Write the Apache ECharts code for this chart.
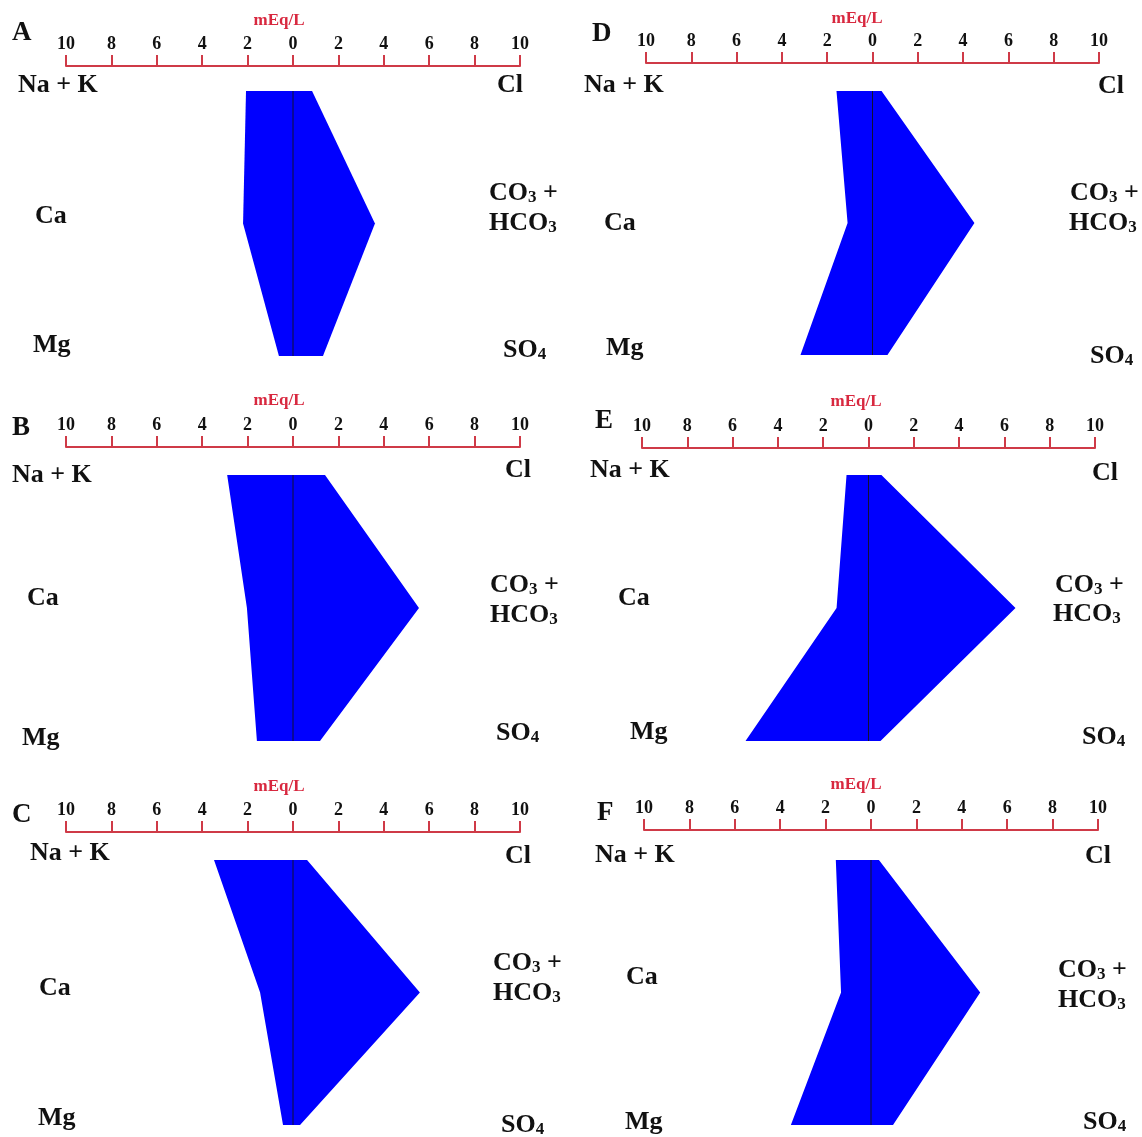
<!DOCTYPE html>
<html>
<head>
<meta charset="utf-8">
<script src="https://cdn.jsdelivr.net/npm/echarts@6/dist/echarts.min.js"></script>
<style>html,body{margin:0;padding:0;background:#fff;}#c{width:1142px;height:1137px;}</style>
</head>
<body>
<div id="c"></div>
<script>
// ---- DATA (mEq/L) ----
const panelNames = ['A', 'B', 'C', 'D', 'E', 'F'];
const cationNames = ['Na + K', 'Ca', 'Mg'];
const anionNames = ['Cl', 'CO3 + HCO3', 'SO4'];
const tickValues = [-10, -8, -6, -4, -2, 0, 2, 4, 6, 8, 10];
// cations: Na+K, Ca, Mg ; anions: Cl, CO3+HCO3, SO4
const A_cations = [2.07, 2.20, 0.62];
const A_anions  = [0.84, 3.61, 1.32];
const B_cations = [2.90, 2.03, 1.59];
const B_anions  = [1.41, 5.55, 1.19];
const C_cations = [3.48, 1.45, 0.44];
const C_anions  = [0.62, 5.59, 0.31];
const D_cations = [1.59, 1.10, 3.18];
const D_anions  = [0.40, 4.50, 0.66];
const E_cations = [0.97, 1.41, 5.43];
const E_anions  = [0.57, 6.49, 0.53];
const F_cations = [1.55, 1.32, 3.53];
const F_anions  = [0.35, 4.81, 0.97];
const cationSets = [A_cations, B_cations, C_cations, D_cations, E_cations, F_cations];
const anionSets  = [A_anions, B_anions, C_anions, D_anions, E_anions, F_anions];

// ---- LAYOUT ----
const layout = [
  {left: 66,  right: 520,  axisY: 66,  top: 91,  bottom: 356,
   letter: [12, 33], unit: [279, 21], nak: [18, 85], ca: [35, 216], mg: [33, 345], cl: [497, 85], co3: [489, 193], hco3: [489, 223], so4: [503, 350]},
  {left: 66,  right: 520,  axisY: 447, top: 475, bottom: 741,
   letter: [12, 428], unit: [279, 401], nak: [12, 475], ca: [27, 598], mg: [22, 738], cl: [505, 470], co3: [490, 585], hco3: [490, 615], so4: [496, 733]},
  {left: 66,  right: 520,  axisY: 832, top: 860, bottom: 1125,
   letter: [12, 815], unit: [279, 787], nak: [30, 853], ca: [39, 988], mg: [38, 1118], cl: [505, 856], co3: [493, 963], hco3: [493, 993], so4: [501, 1125]},
  {left: 646, right: 1099, axisY: 63,  top: 91,  bottom: 355,
   letter: [592, 34], unit: [857, 19], nak: [584, 85], ca: [604, 223], mg: [606, 348], cl: [1098, 86], co3: [1070, 193], hco3: [1069, 223], so4: [1090, 356]},
  {left: 642, right: 1095, axisY: 448, top: 475, bottom: 741,
   letter: [595, 421], unit: [856, 402], nak: [590, 470], ca: [618, 598], mg: [630, 732], cl: [1092, 473], co3: [1055, 585], hco3: [1053, 614], so4: [1082, 737]},
  {left: 644, right: 1098, axisY: 830, top: 860, bottom: 1125,
   letter: [597, 813], unit: [856, 785], nak: [595, 855], ca: [626, 977], mg: [625, 1122], cl: [1085, 856], co3: [1058, 970], hco3: [1058, 1000], so4: [1083, 1122]}
];

const SERIF = '"Liberation Serif", "Times New Roman", serif';
const RED = '#cf3a47';
const UNIT_RED = '#d8283f';
const LABEL_SIZE = 26;

const grids = [], xAxes = [], yAxes = [], series = [], graphics = [];

function txt(x, y, text, size, extra) {
  return {
    type: 'text', x: x, y: y,
    style: Object.assign({
      text: text, fill: '#111', font: 'bold ' + size + 'px ' + SERIF,
      textVerticalAlign: 'middle', textAlign: 'left'
    }, extra || {})
  };
}
function subTxt(x, y, base, sub, tail) {
  return {
    type: 'text', x: x, y: y,
    style: {
      rich: {
        b: {fontFamily: SERIF, fontWeight: 'bold', fontSize: LABEL_SIZE, fill: '#111', color: '#111'},
        s: {fontFamily: SERIF, fontWeight: 'bold', fontSize: 17, fill: '#111', color: '#111', padding: [9, 0, 0, 0]}
      },
      text: '{b|' + base + '}{s|' + sub + '}' + (tail ? '{b|' + tail + '}' : ''),
      textVerticalAlign: 'middle', textAlign: 'left'
    }
  };
}

panelNames.forEach(function (name, i) {
  const L = layout[i];
  grids.push({left: L.left, width: L.right - L.left, top: L.top, height: L.bottom - L.top, containLabel: false});
  xAxes.push({
    type: 'value', gridIndex: i, position: 'top', offset: L.top - L.axisY,
    min: tickValues[0], max: tickValues[tickValues.length - 1], interval: 2,
    axisLine: {show: true, onZero: false, lineStyle: {color: RED, width: 2}},
    axisTick: {show: true, length: 11, lineStyle: {color: RED, width: 2}},
    splitLine: {show: false},
    axisLabel: {
      formatter: function (v) { return String(Math.abs(v)); },
      color: '#111', fontWeight: 'bold', fontSize: 18, fontFamily: SERIF, margin: 13
    }
  });
  yAxes.push({type: 'value', gridIndex: i, min: 0, max: 2, inverse: true, show: false});
  const cat = cationSets[i], an = anionSets[i];
  series.push({
    type: 'custom', xAxisIndex: i, yAxisIndex: i,
    data: [[0, 0]],
    silent: true,
    renderItem: function (params, api) {
      const pts = [
        api.coord([-cat[0], 0]), api.coord([-cat[1], 1]), api.coord([-cat[2], 2]),
        api.coord([an[2], 2]), api.coord([an[1], 1]), api.coord([an[0], 0])
      ];
      const t = api.coord([0, 0]), b = api.coord([0, 2]);
      return {
        type: 'group',
        children: [
          {type: 'polygon', shape: {points: pts}, style: {fill: '#0000ff', stroke: null}},
          {type: 'line', shape: {x1: t[0], y1: t[1], x2: b[0], y2: b[1]}, style: {stroke: '#111133', lineWidth: 1}}
        ]
      };
    }
  });
  graphics.push(txt(L.letter[0], L.letter[1], name, 27));
  graphics.push(txt(L.unit[0], L.unit[1], 'mEq/L', 17, {fill: UNIT_RED, textAlign: 'center'}));
  graphics.push(txt(L.nak[0], L.nak[1], cationNames[0], LABEL_SIZE));
  graphics.push(txt(L.ca[0], L.ca[1], cationNames[1], LABEL_SIZE));
  graphics.push(txt(L.mg[0], L.mg[1], cationNames[2], LABEL_SIZE));
  graphics.push(txt(L.cl[0], L.cl[1], anionNames[0], LABEL_SIZE));
  graphics.push(subTxt(L.co3[0], L.co3[1], 'CO', '3', ' +'));
  graphics.push(subTxt(L.hco3[0], L.hco3[1], 'HCO', '3', ''));
  graphics.push(subTxt(L.so4[0], L.so4[1], 'SO', '4', ''));
});

const chart = echarts.init(document.getElementById('c'), null, {renderer: 'canvas'});
chart.setOption({
  animation: false,
  backgroundColor: '#ffffff',
  grid: grids, xAxis: xAxes, yAxis: yAxes, series: series,
  graphic: {elements: graphics}
});
</script>
</body>
</html>
